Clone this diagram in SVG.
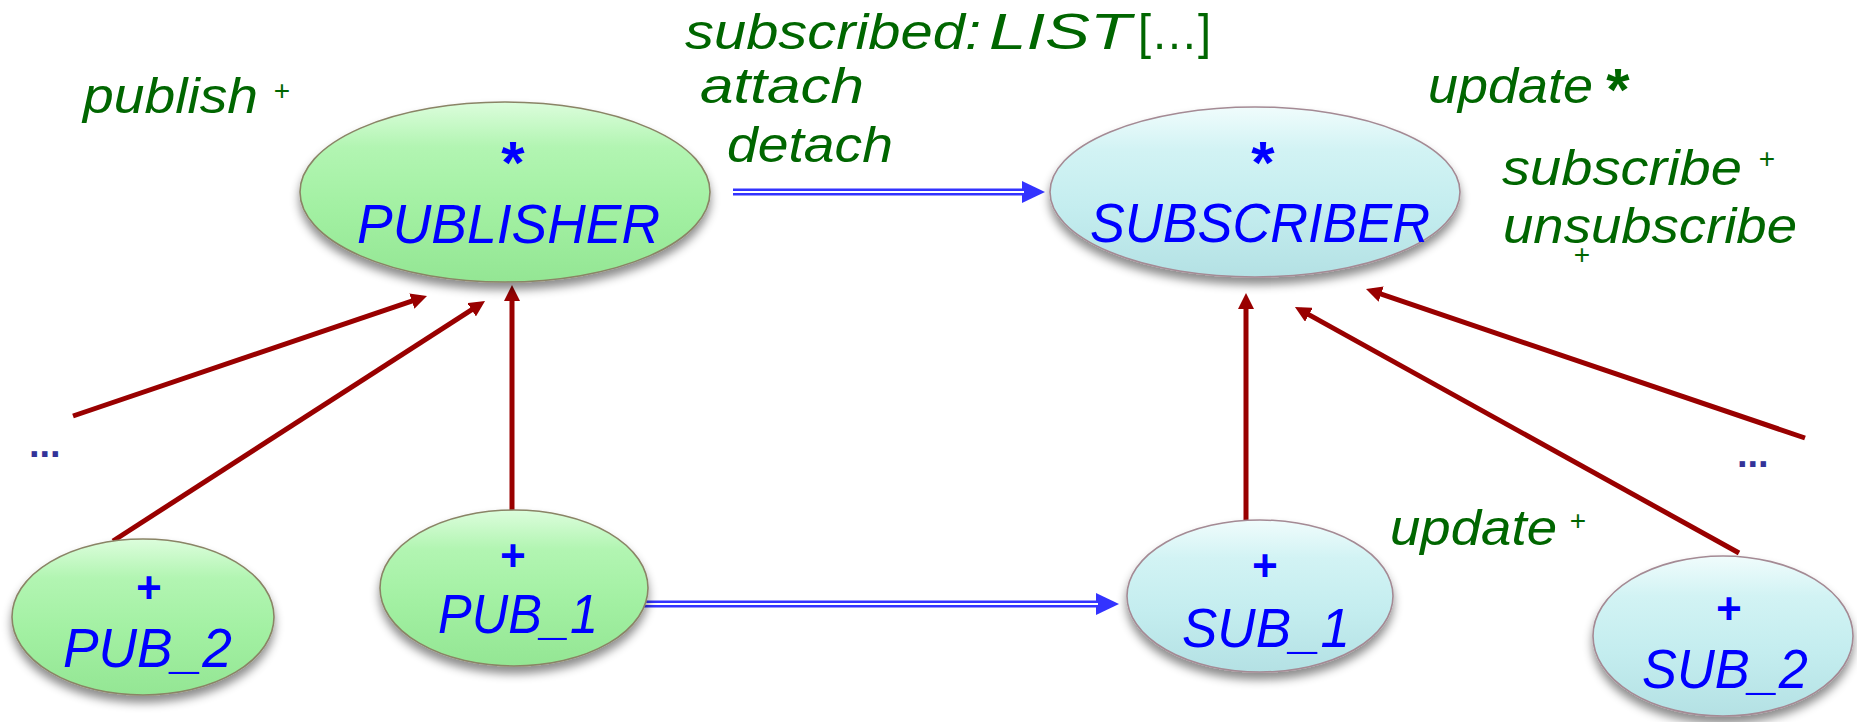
<svg xmlns="http://www.w3.org/2000/svg" width="1857" height="722" viewBox="0 0 1857 722">
  <style>
    .lbl { font-family: "Liberation Sans", Arial, sans-serif; font-style: italic; fill: #006600; font-size: 50px; }
    .up { font-style: normal; }
    .sup { font-family: "Liberation Sans", Arial, sans-serif; fill: #006600; font-size: 28px; text-anchor: middle; }
    .star { font-family: "Liberation Sans", Arial, sans-serif; font-weight: bold; font-size: 60px; text-anchor: middle; }
    .name { font-family: "Liberation Sans", Arial, sans-serif; font-style: italic; fill: #0000ff; font-size: 55px; }
    .mark { font-family: "Liberation Sans", Arial, sans-serif; font-style: italic; font-weight: bold; fill: #0000ff; font-size: 44px; text-anchor: middle; }
    .dots { font-family: "Liberation Sans", Arial, sans-serif; font-weight: bold; fill: #333399; font-size: 38px; }
    .pub { fill: url(#gGreen); stroke: #8a8466; stroke-width: 1.6; filter: url(#shadow); }
    .sub { fill: url(#gCyan); stroke: #a48a94; stroke-width: 1.6; filter: url(#shadow); }
    .inh { stroke: #990000; stroke-width: 5; fill: none; marker-end: url(#redHead); }
    .cli { stroke: #3333ff; stroke-width: 7; fill: none; marker-end: url(#blueHead); }
    .gap { stroke: #ffffff; stroke-width: 2.2; fill: none; }
  </style>
  <defs>
    <linearGradient id="gGreen" x1="0" y1="0" x2="0" y2="1">
      <stop offset="0" stop-color="#dcfddc"/>
      <stop offset="0.25" stop-color="#b2f5b2"/>
      <stop offset="0.6" stop-color="#a2f0a2"/>
      <stop offset="1" stop-color="#94e694"/>
    </linearGradient>
    <linearGradient id="gCyan" x1="0" y1="0" x2="0" y2="1">
      <stop offset="0" stop-color="#f0fcfc"/>
      <stop offset="0.25" stop-color="#d2f3f4"/>
      <stop offset="0.6" stop-color="#c4edef"/>
      <stop offset="1" stop-color="#b4e1e4"/>
    </linearGradient>
    <filter id="shadow" x="-20%" y="-20%" width="140%" height="150%">
      <feDropShadow dx="0" dy="7" stdDeviation="5" flood-color="#000000" flood-opacity="0.45"/>
    </filter>
    <marker id="redHead" markerUnits="userSpaceOnUse" markerWidth="16" markerHeight="16" refX="10" refY="8" orient="auto">
      <path d="M0,0 L16,8 L0,16 z" fill="#990000"/>
    </marker>
    <marker id="blueHead" markerUnits="userSpaceOnUse" markerWidth="24" markerHeight="22" refX="8" refY="11" orient="auto">
      <path d="M0,0 L23,11 L0,22 z" fill="#3333ff"/>
    </marker>
  </defs>

  <!-- feature annotations -->
  <g id="annotations">
    <text class="lbl" x="83" y="113" textLength="175" lengthAdjust="spacingAndGlyphs">publish</text>
    <text class="sup" x="282" y="100">+</text>
    <text class="lbl" x="685" y="49" textLength="296" lengthAdjust="spacingAndGlyphs">subscribed:</text>
    <text class="lbl" x="989" y="49" textLength="142" lengthAdjust="spacingAndGlyphs">LIST</text>
    <text class="lbl up" x="1138" y="49" textLength="73" lengthAdjust="spacingAndGlyphs">[…]</text>
    <text class="lbl" x="700" y="103" textLength="164" lengthAdjust="spacingAndGlyphs">attach</text>
    <text class="lbl" x="727" y="162" textLength="166" lengthAdjust="spacingAndGlyphs">detach</text>
    <text class="lbl" x="1428" y="103" textLength="165" lengthAdjust="spacingAndGlyphs">update</text>
    <text class="star" x="1618" y="110" fill="#006600">*</text>
    <text class="lbl" x="1502" y="185" textLength="240" lengthAdjust="spacingAndGlyphs">subscribe</text>
    <text class="sup" x="1767" y="168">+</text>
    <text class="lbl" x="1503" y="243" textLength="294" lengthAdjust="spacingAndGlyphs">unsubscribe</text>
    <text class="sup" x="1582" y="264">+</text>
    <text class="lbl" x="1390" y="545" textLength="167" lengthAdjust="spacingAndGlyphs">update</text>
    <text class="sup" x="1578" y="530">+</text>
    <text class="dots" x="29" y="457">...</text>
    <text class="dots" x="1737" y="467">...</text>
  </g>

  <!-- connectors: inheritance (red) and client (double blue) -->
  <g id="connectors">
    <path class="inh" d="M73,416 L421.3,297.9"/>
    <path class="inh" d="M113,541 L480,304.3"/>
    <path class="inh" d="M512,510 L512,291"/>
    <path class="inh" d="M1246,520 L1246,299"/>
    <path class="inh" d="M1739,553 L1300.2,309.9"/>
    <path class="inh" d="M1805,438 L1371.7,290.9"/>
    <path class="cli" d="M733,192 L1030,192"/>
    <path class="gap" d="M733,192 L1024,192"/>
    <path class="cli" d="M640,604 L1104,604"/>
    <path class="gap" d="M640,604 L1098,604"/>
  </g>

  <g id="publisher">
    <ellipse class="pub" cx="505" cy="192" rx="205" ry="90"/>
    <text class="star" x="513" y="183" fill="#0000ff">*</text>
    <text class="name" x="357" y="243" textLength="303" lengthAdjust="spacingAndGlyphs">PUBLISHER</text>
  </g>

  <g id="subscriber">
    <ellipse class="sub" cx="1255" cy="192" rx="205" ry="85"/>
    <text class="star" x="1263" y="183" fill="#0000ff">*</text>
    <text class="name" x="1090" y="242" textLength="340" lengthAdjust="spacingAndGlyphs">SUBSCRIBER</text>
  </g>

  <g id="pub2">
    <ellipse class="pub" cx="143" cy="617" rx="131" ry="78"/>
    <text class="mark" x="148" y="603">+</text>
    <text class="name" x="63" y="667" textLength="169" lengthAdjust="spacingAndGlyphs">PUB_2</text>
  </g>

  <g id="pub1">
    <ellipse class="pub" cx="514" cy="588" rx="134" ry="78"/>
    <text class="mark" x="512" y="571">+</text>
    <text class="name" x="438" y="633" textLength="160" lengthAdjust="spacingAndGlyphs">PUB_1</text>
  </g>

  <g id="sub1">
    <ellipse class="sub" cx="1260" cy="596" rx="133" ry="76"/>
    <text class="mark" x="1264" y="581">+</text>
    <text class="name" x="1182" y="647" textLength="168" lengthAdjust="spacingAndGlyphs">SUB_1</text>
  </g>

  <g id="sub2">
    <ellipse class="sub" cx="1723" cy="636" rx="130" ry="80"/>
    <text class="mark" x="1728" y="624">+</text>
    <text class="name" x="1642" y="688" textLength="166" lengthAdjust="spacingAndGlyphs">SUB_2</text>
  </g>
</svg>
